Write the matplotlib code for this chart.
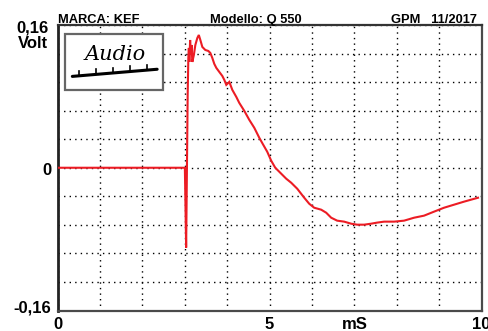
import matplotlib.pyplot as plt
from matplotlib.patches import Rectangle

plt.rcParams["font.family"] = ["Liberation Sans", "DejaVu Sans"]
plt.rcParams["font.weight"] = "bold"

# impulse response (ms, Volt)
time_ms = [0.0, 3.004, 3.034, 3.070, 3.086, 3.098, 3.110, 3.128, 3.145, 3.161,
           3.180, 3.216, 3.251, 3.298, 3.333, 3.369, 3.416, 3.486, 3.557, 3.604,
           3.651, 3.698, 3.746, 3.816, 3.887, 3.934, 3.981, 4.052, 4.123, 4.217,
           4.287, 4.405, 4.523, 4.641, 4.759, 4.853, 4.947, 5.041, 5.136, 5.277,
           5.395, 5.512, 5.654, 5.819, 5.936, 6.054, 6.219, 6.337, 6.455, 6.596,
           6.761, 6.926, 7.067, 7.232, 7.397, 7.538, 7.703, 7.939, 8.174, 8.410,
           8.645, 8.881, 9.117, 9.352, 9.588, 9.918]
volt = [0.0, 0.0, -0.0895, 0.0817, 0.1231, 0.1343, 0.1186, 0.1432, 0.1264, 0.1376,
        0.1186, 0.1264, 0.1376, 0.1455, 0.1488, 0.1432, 0.1354, 0.1320, 0.1309, 0.1287,
        0.1231, 0.1164, 0.1119, 0.1074, 0.1029, 0.0985, 0.0929, 0.0962, 0.0873, 0.0794,
        0.0727, 0.0638, 0.0537, 0.0448, 0.0336, 0.0257, 0.0179, 0.0078, 0.0, -0.0067,
        -0.0123, -0.0168, -0.0235, -0.0336, -0.0403, -0.0448, -0.0470, -0.0504, -0.0560, -0.0593,
        -0.0604, -0.0627, -0.0638, -0.0638, -0.0627, -0.0615, -0.0604, -0.0604, -0.0593, -0.0560,
        -0.0537, -0.0492, -0.0448, -0.0414, -0.0380, -0.0336]

x_ticks = [0, 5, 10]
x_tick_labels = ["0", "5", "10"]
x_unit = "mS"
y_ticks = [-0.16, 0, 0.16]
y_tick_labels = ["-0,16", "0", "0,16"]
y_unit = "Volt"
header = ["MARCA: KEF", "Modello: Q 550", "GPM   11/2017"]

fig = plt.figure(figsize=(4.88, 3.31), dpi=100)
ax = fig.add_axes([57.5 / 488, 20.5 / 331, 424 / 488, 285.5 / 331])

ax.plot(time_ms, volt, color="#ec1c24", lw=1.5, solid_joinstyle="miter", zorder=3)

ax.set_xlim(0, 10)
ax.set_ylim(-0.16, 0.16)
ax.set_xticks(range(11))
ax.set_yticks([-0.16 + 0.032 * i for i in range(11)])
ax.grid(True, color="black", lw=1.0, linestyle=(0, (1, 3)))
ax.tick_params(length=0, labelbottom=False, labelleft=False)

for s in ax.spines.values():
    s.set_color("#4a4a4a")
    s.set_linewidth(1.6)
ax.spines["left"].set_color("#222222")
ax.spines["left"].set_linewidth(2.0)
ax.spines["top"].set_color("#333333")

# tick labels as plain text, like the original print
for xt, lab in zip(x_ticks, x_tick_labels):
    ax.text(xt, -0.1802, lab, ha="center", va="baseline", fontsize=12, clip_on=False)
ax.text(7.02, -0.1802, x_unit, ha="center", va="baseline", fontsize=12, clip_on=False)

y_base = {-0.16: -0.1628, 0: -0.0078, 0.16: 0.1515}
for yt, lab in zip(y_ticks, y_tick_labels):
    xpos = -0.22 if yt == 0.16 else -0.14
    ax.text(xpos, y_base[yt], lab, ha="right", va="baseline", fontsize=12, clip_on=False)
ax.text(-0.22, 0.1345, y_unit, ha="right", va="baseline", fontsize=12, clip_on=False)

# header
fig.text(58 / 488, 1 - 23 / 331, header[0], ha="left", va="baseline", fontsize=9.3)
fig.text(256 / 488, 1 - 23 / 331, header[1], ha="center", va="baseline", fontsize=9.3)
fig.text(477 / 488, 1 - 23 / 331, header[2], ha="right", va="baseline", fontsize=9.3)

# logo box
ax.add_patch(Rectangle((0.0177, 0.772), 0.231, 0.196, transform=ax.transAxes,
                       facecolor="white", edgecolor="#666666", lw=1.6, zorder=4))
ax.text(0.135, 0.895, "Audio", transform=ax.transAxes, ha="center", va="center",
        fontsize=15, fontstyle="italic", fontweight="normal", family="DejaVu Serif",
        zorder=5)
ax.plot([0.035, 0.235], [0.82, 0.845], transform=ax.transAxes, color="black", lw=2.2,
        solid_capstyle="round", zorder=5)
for fx in [0.05, 0.09, 0.13, 0.17, 0.21]:
    ax.plot([fx, fx], [0.82 + (fx - 0.035) * 0.125, 0.838 + (fx - 0.035) * 0.125],
            transform=ax.transAxes, color="black", lw=1.2, zorder=5)

fig.savefig("out.png", dpi=100)
